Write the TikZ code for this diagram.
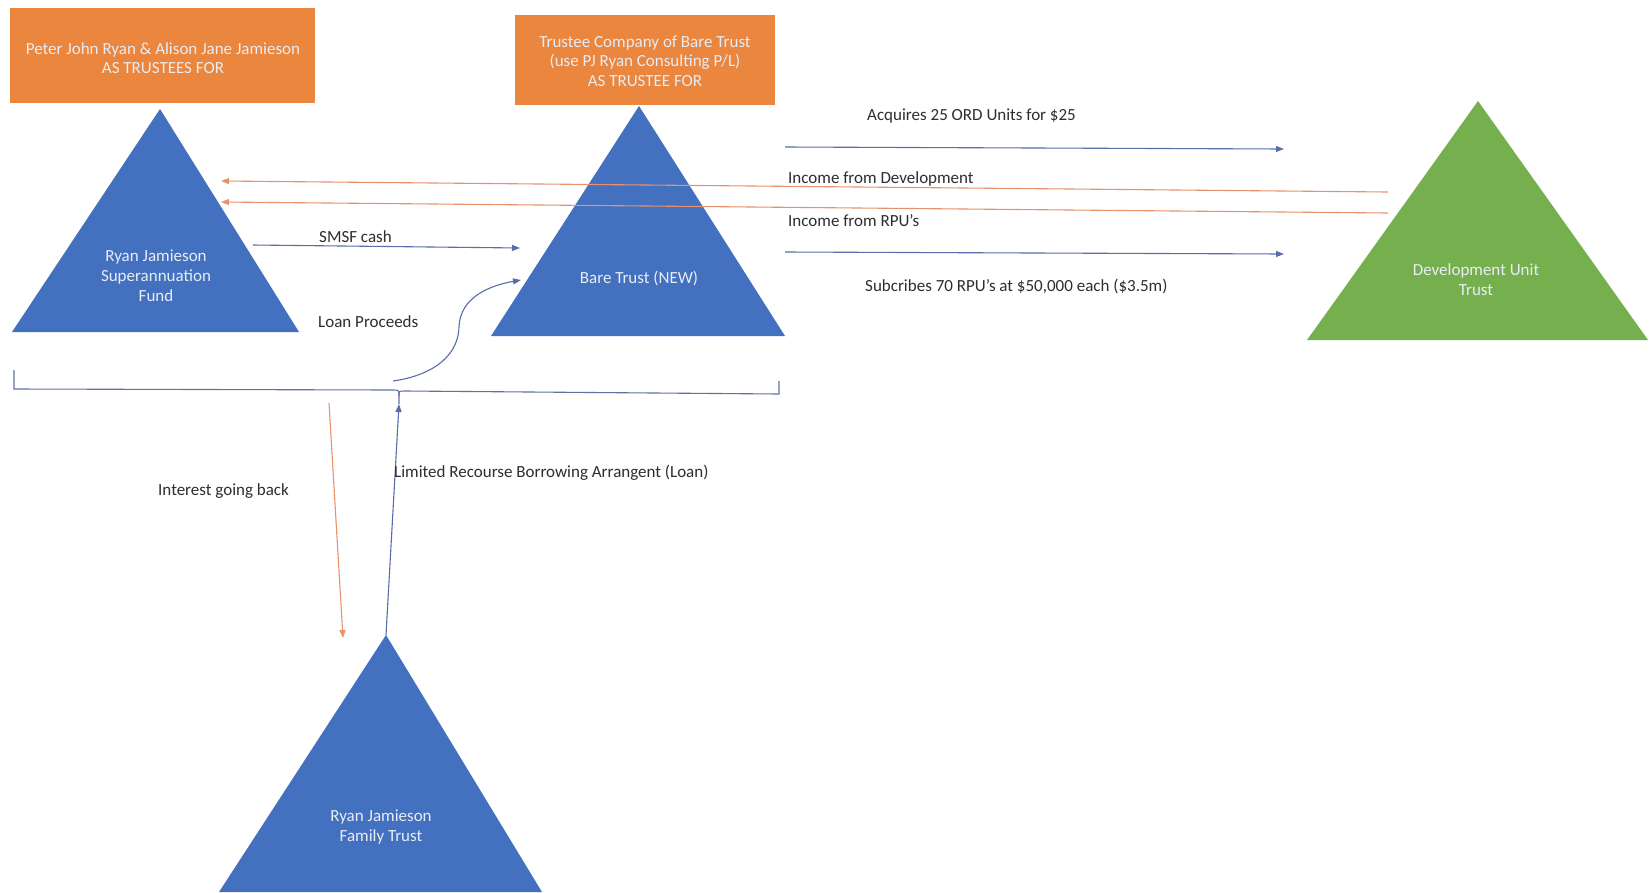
\documentclass[tikz,border=0pt]{standalone}
\usepackage{fontspec}
\setmainfont{Carlito}
\usetikzlibrary{arrows.meta}
\definecolor{boxorange}{RGB}{234,134,62}
\definecolor{triblue}{RGB}{68,112,192}
\definecolor{trigreen}{RGB}{118,176,78}
\definecolor{lineblue}{RGB}{88,110,168}
\definecolor{lineorange}{RGB}{232,146,108}
\definecolor{labelgray}{RGB}{45,45,50}
\definecolor{shapetext}{RGB}{232,236,244}
\tikzset{
  ownerbox/.style={fill=boxorange, draw=none, text=shapetext, align=center, font=\fontsize{17}{19.5}\selectfont},
  tritext/.style={text=shapetext, align=center, font=\fontsize{17}{20}\selectfont},
  lbl/.style={text=labelgray, anchor=west, font=\fontsize{17}{20}\selectfont, inner sep=0pt},
  bluearrow/.style={draw=lineblue, line width=1.1pt, -{Triangle[length=8pt,width=6pt]}},
  orangearrow/.style={draw=lineorange, line width=1.1pt, -{Triangle[length=8pt,width=6pt]}},
  bracketline/.style={draw=lineblue!80!gray, line width=1.1pt}
}
\begin{document}
\begin{tikzpicture}[x=1pt,y=-1pt]
\useasboundingbox (0,0) rectangle (1649,892);
\fill[white] (0,0) rectangle (1649,892);

% orange boxes
\fill[boxorange] (10,8) rectangle (315,103);
\node[ownerbox] (box1) at (163,58) {Peter John Ryan \& Alison Jane Jamieson\\AS TRUSTEES FOR};
\fill[boxorange] (515,15) rectangle (775,105);
\node[ownerbox] (box2) at (645,61) {Trustee Company of Bare Trust\\(use PJ Ryan Consulting P/L)\\AS TRUSTEE FOR};

% triangles
\fill[triblue] (160,109) -- (299,332) -- (12,332) -- cycle;
\node[tritext] (smsf) at (156,276) {Ryan Jamieson\\Superannuation\\Fund};
\fill[triblue] (639,106) -- (785,336) -- (491,336) -- cycle;
\node[tritext] (bare) at (639,278) {Bare Trust (NEW)};
\fill[trigreen] (1478,101) -- (1648,340) -- (1307,340) -- cycle;
\node[tritext] (dev) at (1476,280) {Development Unit\\Trust};
\fill[triblue] (386,635) -- (542,892) -- (219,892) -- cycle;
\node[tritext] (family) at (381,827) {Ryan Jamieson\\Family Trust};

% connector end points
\coordinate (acqS) at (785,147);
\coordinate (acqE) at (1284,149);
\coordinate (incDS) at (1388,192);
\coordinate (incDE) at (221,181);
\coordinate (incRS) at (1388,213);
\coordinate (incRE) at (221,202);
\coordinate (subS) at (785,252);
\coordinate (subE) at (1284,254);
\coordinate (cashS) at (253,245);
\coordinate (cashE) at (520,248);
\coordinate (loanS) at (393,381);
\coordinate (loanM) at (459,327);
\coordinate (loanE) at (521,280);
\coordinate (notch) at (399,404);
\coordinate (famTop) at (386,635);
\coordinate (intS) at (329,403);
\coordinate (intE) at (343,638);

% arrows
\draw[bluearrow] (acqS) -- (acqE);
\draw[orangearrow] (incDS) -- (incDE);
\draw[orangearrow] (incRS) -- (incRE);
\draw[bluearrow] (subS) -- (subE);
\draw[bluearrow] (cashS) -- (cashE);
\draw[bluearrow] (loanS) to[out=8,in=-92] (loanM) to[out=88,in=190] (loanE);
\draw[bluearrow] (famTop) -- (notch);
\draw[orangearrow] (intS) -- (intE);

% bracket
\draw[bracketline] (14,370) -- (14,389) -- (393,390) .. controls (399,390) .. (399,396) -- (notch);
\draw[bracketline] (399,396) .. controls (399,391) .. (405,391) -- (779,394) -- (779,381);

% labels
\node[lbl] (lacq) at (867,116) {Acquires 25 ORD Units for \$25};
\node[lbl] (lincd) at (788,179) {Income from Development};
\node[lbl] (lincr) at (788,221) {Income from RPU's};
\node[lbl] (lsub) at (865,286) {Subcribes 70 RPU's at \$50,000 each (\$3.5m)};
\node[lbl] (lcash) at (319,237) {SMSF cash};
\node[lbl] (lloan) at (318,322) {Loan Proceeds};
\node[lbl] (lint) at (158,491) {Interest going back};
\node[lbl] (llrba) at (394,473) {Limited Recourse Borrowing Arrangent (Loan)};
\end{tikzpicture}
\end{document}
